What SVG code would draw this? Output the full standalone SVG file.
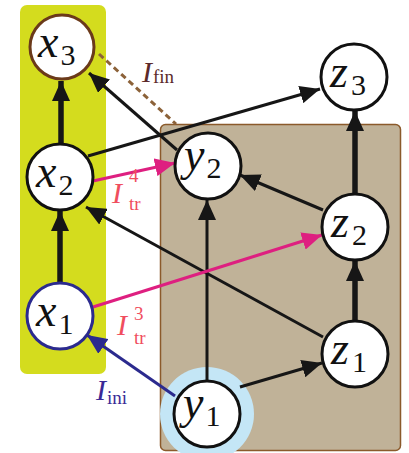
<svg xmlns="http://www.w3.org/2000/svg" width="409" height="453" viewBox="0 0 409 453">
<style>
.node circle{fill:#fff;stroke:#111;stroke-width:3}
.lbl{font-family:"Liberation Serif","DejaVu Serif",serif;font-size:46px;fill:#111}
.it{font-style:italic}
.sub{font-size:30px}
.e{fill:none;stroke:#161616;stroke-width:3}
.thick{stroke-width:5.5}
.mag{stroke:#de1f80}
.blu{stroke:#2b2a8e}
.ann{font-family:"Liberation Serif","DejaVu Serif",serif;font-size:30px}
.ann .s{font-size:19px;font-style:normal}
</style>
<defs>
<marker id="ab" markerUnits="userSpaceOnUse" markerWidth="22" markerHeight="18" refX="20" refY="9" orient="auto"><path d="M0,0 L20,9 L0,18 z" fill="#161616"/></marker>
<marker id="am" markerUnits="userSpaceOnUse" markerWidth="22" markerHeight="18" refX="20" refY="9" orient="auto"><path d="M0,0 L20,9 L0,18 z" fill="#de1f80"/></marker>
<marker id="ai" markerUnits="userSpaceOnUse" markerWidth="22" markerHeight="18" refX="20" refY="9" orient="auto"><path d="M0,0 L20,9 L0,18 z" fill="#2b2a8e"/></marker>
</defs>
<g id="panels">
<rect x="20" y="5" width="86" height="369" rx="7" fill="#d4dc1e"/>
<rect x="160.5" y="124.5" width="240" height="326" rx="5" fill="#c0b298" stroke="#8b5a2b" stroke-width="1.5"/>
<circle cx="207" cy="414" r="47" fill="#c4e6f6"/>
</g>
<g id="connectors">
<line class="e thick" x1="60" y1="283" x2="60" y2="211" marker-end="url(#ab)"/>
<line class="e thick" x1="61" y1="144" x2="61" y2="81" marker-end="url(#ab)"/>
<line class="e" stroke-width="4" x1="207" y1="381" x2="207" y2="200" marker-end="url(#ab)"/>
<line class="e thick" x1="355" y1="321" x2="355" y2="261" marker-end="url(#ab)"/>
<line class="e thick" x1="355" y1="194" x2="355" y2="111" marker-end="url(#ab)"/>
<line class="e" x1="177" y1="150" x2="89" y2="73" marker-end="url(#ab)"/>
<line class="e" x1="88" y1="156" x2="320" y2="89" marker-end="url(#ab)"/>
<line class="e" x1="323" y1="210" x2="240" y2="175" marker-end="url(#ab)"/>
<line class="e" x1="323" y1="337" x2="86" y2="207" marker-end="url(#ab)"/>
<line class="e" x1="240" y1="387" x2="322" y2="363" marker-end="url(#ab)"/>
<line class="e mag" x1="93" y1="181" x2="175" y2="163" marker-end="url(#am)"/>
<line class="e mag" x1="93" y1="307" x2="322" y2="235" marker-end="url(#am)"/>
<line class="e blu" x1="175" y1="396" x2="87" y2="335" marker-end="url(#ai)"/>
<line x1="99" y1="54" x2="176" y2="124" stroke="#8c6239" stroke-width="3" stroke-dasharray="6,4"/>
</g>
<g id="x3" class="node"><circle cx="62" cy="47" r="32" style="stroke:#6b3a1a"/><text class="lbl" x="38" y="57"><tspan class="it">x</tspan><tspan class="sub" dx="2" dy="8">3</tspan></text></g>
<g id="x2" class="node"><circle cx="60" cy="177" r="33"/><text class="lbl" x="36" y="187"><tspan class="it">x</tspan><tspan class="sub" dx="2" dy="8">2</tspan></text></g>
<g id="x1" class="node"><circle cx="60" cy="316" r="33" style="stroke:#2b2a8e"/><text class="lbl" x="36" y="326"><tspan class="it">x</tspan><tspan class="sub" dx="2" dy="8">1</tspan></text></g>
<g id="y2" class="node"><circle cx="208" cy="166" r="33"/><text class="lbl" x="184" y="170"><tspan class="it">y</tspan><tspan class="sub" dx="2" dy="8">2</tspan></text></g>
<g id="y1" class="node"><circle cx="207" cy="414" r="33"/><text class="lbl" x="183" y="418"><tspan class="it">y</tspan><tspan class="sub" dx="2" dy="8">1</tspan></text></g>
<g id="z3" class="node"><circle cx="354" cy="77" r="33"/><text class="lbl" x="330" y="87"><tspan class="it">z</tspan><tspan class="sub" dx="3" dy="8">3</tspan></text></g>
<g id="z2" class="node"><circle cx="355" cy="227" r="33"/><text class="lbl" x="331" y="237"><tspan class="it">z</tspan><tspan class="sub" dx="3" dy="8">2</tspan></text></g>
<g id="z1" class="node"><circle cx="355" cy="354" r="33"/><text class="lbl" x="331" y="364"><tspan class="it">z</tspan><tspan class="sub" dx="3" dy="8">1</tspan></text></g>
<g id="labels">
<text class="ann" fill="#5c2a2a" x="142" y="82"><tspan font-style="italic">I</tspan><tspan class="s" dx="1" dy="1">fin</tspan></text>
<text class="ann" fill="#f04e5e" x="112" y="203"><tspan font-style="italic">I</tspan><tspan class="s" x="129" y="182">4</tspan><tspan class="s" x="129" y="210">tr</tspan></text>
<text class="ann" fill="#f04e5e" x="117" y="335"><tspan font-style="italic">I</tspan><tspan class="s" x="134" y="320">3</tspan><tspan class="s" x="134" y="344">tr</tspan></text>
<text class="ann" fill="#3a2a96" x="96" y="400"><tspan font-style="italic">I</tspan><tspan class="s" dx="1" dy="4">ini</tspan></text>
</g>
</svg>
